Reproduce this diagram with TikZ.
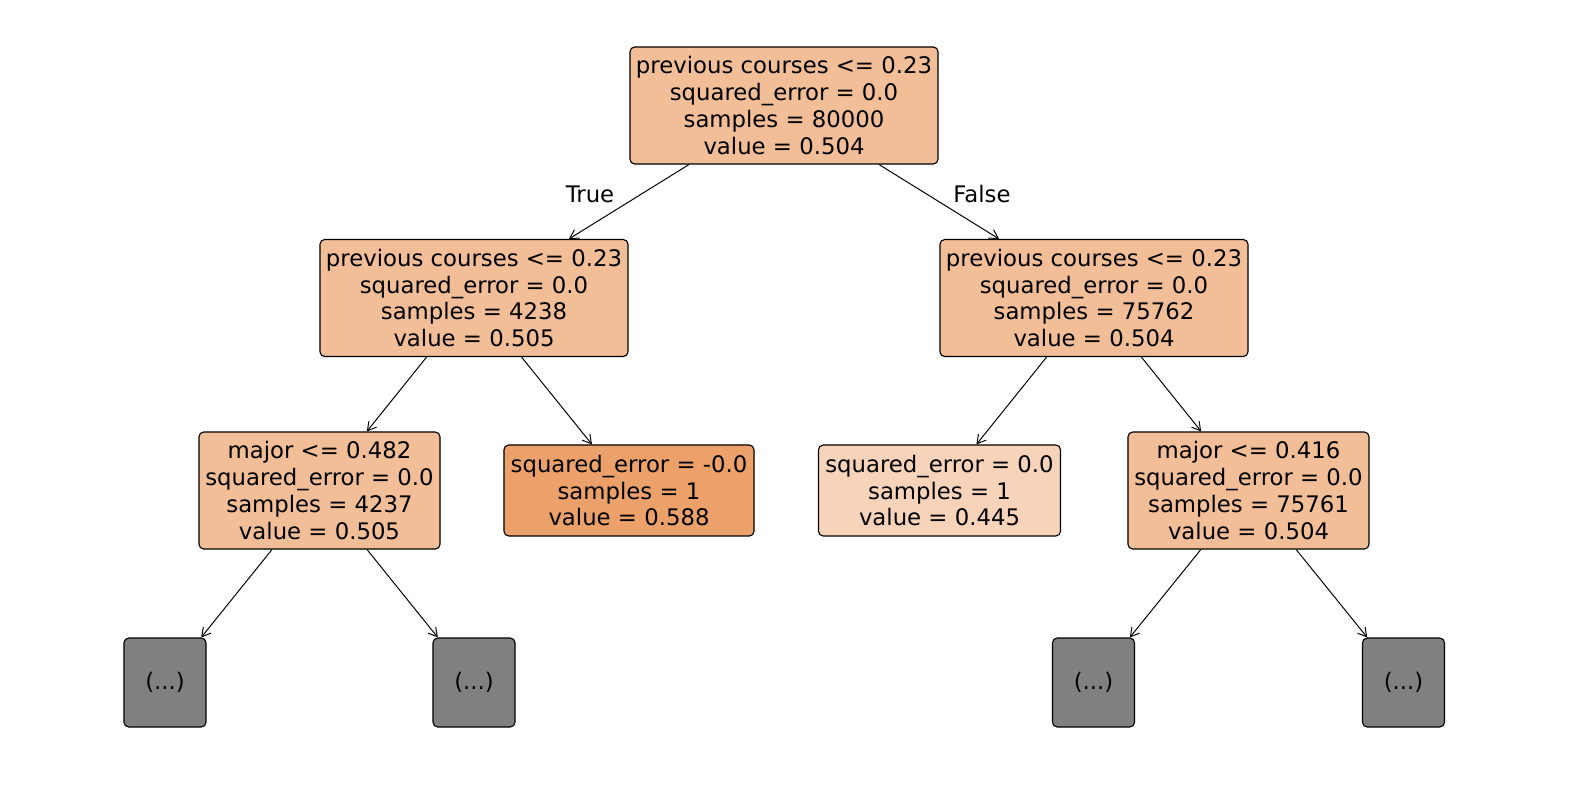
\documentclass[tikz,border=0pt]{standalone}
\usepackage{fontspec}
\setmainfont{DejaVu Sans}
\usetikzlibrary{arrows.meta}
\definecolor{splitfill}{HTML}{F2BE98}
\definecolor{highfill}{HTML}{ECA16A}
\definecolor{lowfill}{HTML}{F7D3B9}
\definecolor{moregray}{HTML}{808080}
\begin{document}
\begin{tikzpicture}[x=0.025cm, y=-0.025cm,
    every node/.style={font=\fontsize{16.2}{19}\selectfont, align=center},
    treenode/.style={rectangle,
        draw,
        line width=0.8pt,
        rounded corners=0.12cm,
        inner sep=0pt},
    wide/.style={treenode, minimum width=7.7cm, minimum height=2.925cm, fill=splitfill},
    split/.style={treenode, minimum width=6.025cm, minimum height=2.925cm, fill=splitfill},
    leaf/.style={treenode, minimum height=2.275cm},
    more/.style={treenode, minimum width=2.05cm, minimum height=2.225cm, fill=moregray},
    edge/.style={-{Straight Barb[length=6pt, width=7pt]}, line width=0.7pt}]
        \useasboundingbox (0,0) rectangle (1570,790);

        % depth 0
        \node[wide] (root) at (784,105.5) {previous courses <= 0.23\\squared\_error = 0.0\\samples = 80000\\value = 0.504};

        % depth 1
        \node[wide] (left) at (474,298) {previous courses <= 0.23\\squared\_error = 0.0\\samples = 4238\\value = 0.505};
        \node[wide] (right) at (1094,298) {previous courses <= 0.23\\squared\_error = 0.0\\samples = 75762\\value = 0.504};

        % depth 2
        \node[split] (majorA) at (319.5,490.5) {major <= 0.482\\squared\_error = 0.0\\samples = 4237\\value = 0.505};
        \node[leaf, minimum width=6.25cm, fill=highfill] (leafA) at (629,490.5) {squared\_error = -0.0\\samples = 1\\value = 0.588};
        \node[leaf, minimum width=6.05cm, fill=lowfill] (leafB) at (939.5,490.5) {squared\_error = 0.0\\samples = 1\\value = 0.445};
        \node[split] (majorB) at (1248.5,490.5) {major <= 0.416\\squared\_error = 0.0\\samples = 75761\\value = 0.504};

        % depth 3
        \node[more] (moreA) at (165,682.5) {(...)};
        \node[more] (moreB) at (474,682.5) {(...)};
        \node[more] (moreC) at (1093.5,682.5) {(...)};
        \node[more] (moreD) at (1403.5,682.5) {(...)};

        \draw [edge] (root) -- (left);
        \draw [edge] (root) -- (right);
        \draw [edge] (left) -- (majorA);
        \draw [edge] (left) -- (leafA);
        \draw [edge] (right) -- (leafB);
        \draw [edge] (right) -- (majorB);
        \draw [edge] (majorA) -- (moreA);
        \draw [edge] (majorA) -- (moreB);
        \draw [edge] (majorB) -- (moreC);
        \draw [edge] (majorB) -- (moreD);

        \node (true) at (590,194) {True};
        \node (false) at (982,194) {False};
    
    \end{tikzpicture}
\end{document}
